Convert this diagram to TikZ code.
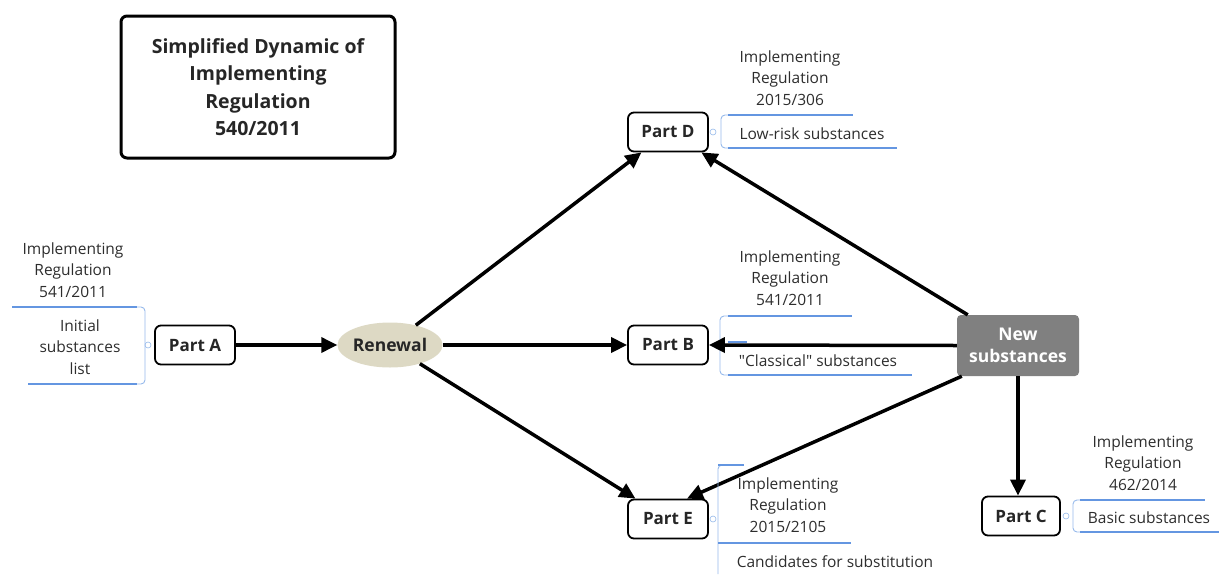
\documentclass[tikz,border=0pt]{standalone}
\usepackage{fontspec}
\setmainfont{Open Sans}[Ligatures=TeXOff]
\usetikzlibrary{arrows.meta,shapes.geometric}
\definecolor{ulblue}{RGB}{100,150,225}
\definecolor{brblue}{RGB}{150,185,235}
\definecolor{txtgray}{RGB}{45,45,45}
\definecolor{renfill}{RGB}{221,217,196}
\definecolor{newfill}{RGB}{128,128,128}
\tikzset{
  partbox/.style={draw=black,line width=1.8pt,rounded corners=6pt,fill=white,minimum width=80pt,minimum height=39pt,inner sep=0pt,font=\fontsize{17}{18}\selectfont\bfseries,text=black!85},
  flow/.style={line width=3.5pt,-{Triangle[length=16pt,width=15pt]}},
  annot/.style={align=center,inner sep=0pt,text=txtgray,font=\fontsize{15.5}{21.5}\selectfont},
  uline/.style={draw=ulblue,line width=1.8pt},
  bracket/.style={draw=brblue,line width=0.9pt,rounded corners=4pt},
  knob/.style={draw=brblue,line width=0.6pt,fill=white,circle,inner sep=0pt,minimum size=6pt},
}
\begin{document}
\begin{tikzpicture}[x=1pt,y=-1pt]
\useasboundingbox (0,0) rectangle (1219,574);
% title
\node[draw=black,line width=3pt,rounded corners=6pt,minimum width=274pt,minimum height=142pt,align=center,inner sep=0pt,font=\fontsize{19.5}{27.5}\selectfont\bfseries,text=black!85] (title) at (258,87) {Simplified Dynamic of\\Implementing\\Regulation\\540/2011};
% main nodes
\node[partbox] (pa) at (195,345) {Part A};
\node[ellipse,fill=renfill,minimum width=100pt,minimum height=45pt,inner sep=0pt,font=\fontsize{17.5}{18}\selectfont\bfseries,text=black!85] (ren) at (390,345) {Renewal};
\node[partbox] (pb) at (668,345) {Part B};
\node[partbox] (pd) at (668,132) {Part D};
\node[partbox] (pe) at (668,519) {Part E};
\node[partbox,minimum width=78pt] (pc) at (1021,516) {Part C};
\node[fill=newfill,rounded corners=4pt,minimum width=122pt,minimum height=61pt,inner sep=0pt,align=center,text=white,font=\fontsize{17.5}{22}\selectfont\bfseries] (ne) at (1018,345.5) {New\\substances};
% flows
\draw[flow] (pa) -- (ren);
\draw[flow] (ren) -- (pd);
\draw[flow] (ren) -- (pb);
\draw[flow] (ren) -- (pe);
\draw[flow] (ne) -- (pd);
\draw[flow] ([xshift=5pt]ne.south west) -- ([xshift=19pt]pe.north);
\draw[flow] (ne.south) -- (ne.south |- pc.north);
% annotation Part A (left side)
\node[knob] (ka) at (148,345) {};
\draw[bracket] (137,307) -- (145,307) -- (145,384) -- (137,384);
\draw[uline] (12,307) -- (137,307);
\draw[uline] (28,384) -- (137,384);
\node[annot] (aa1) at (73,270) {Implementing\\Regulation\\541/2011};
\node[annot] (aa2) at (80,347) {Initial\\substances\\list};
% annotation Part D
\node[knob] (kd) at (713,132) {};
\draw[bracket] (728,115) -- (721,115) -- (721,148) -- (728,148);
\draw[uline] (728,115) -- (853,115);
\draw[uline] (728,148) -- (897,148);
\node[annot] (ad1) at (790,78) {Implementing\\Regulation\\2015/306};
\node[annot] (ad2) at (812,134) {Low-risk substances};
% annotation Part B
\draw[bracket] (728,316) -- (720,316) -- (720,375) -- (728,375);
\draw[uline] (728,316) -- (852,316);
\draw[uline] (728,342) -- (747,342);
\draw[uline] (728,375) -- (912,375);
\node[annot] (ab1) at (790,278) {Implementing\\Regulation\\541/2011};
\node[annot] (ab2) at (818,361) {"Classical" substances};
\draw[flow] (ne.west) -- (pb.east);
% annotation Part E
\node[knob] (ke) at (713,519) {};
\draw[bracket] (726,465) -- (718,465) -- (718,574);
\draw[uline] (718,465) -- (744,465);
\draw[uline] (718,543) -- (851,543);
\node[annot] (ae1) at (788,505) {Implementing\\Regulation\\2015/2105};
\node[annot] (ae2) at (835,562) {Candidates for substitution};
% annotation Part C
\node[knob] (kc) at (1066,516) {};
\draw[bracket] (1080,500) -- (1073,500) -- (1073,532) -- (1080,532);
\draw[uline] (1080,500) -- (1205,500);
\draw[uline] (1080,532) -- (1219,532);
\node[annot] (ac1) at (1143,463) {Implementing\\Regulation\\462/2014};
\node[annot] (ac2) at (1149,518) {Basic substances};
\end{tikzpicture}
\end{document}
